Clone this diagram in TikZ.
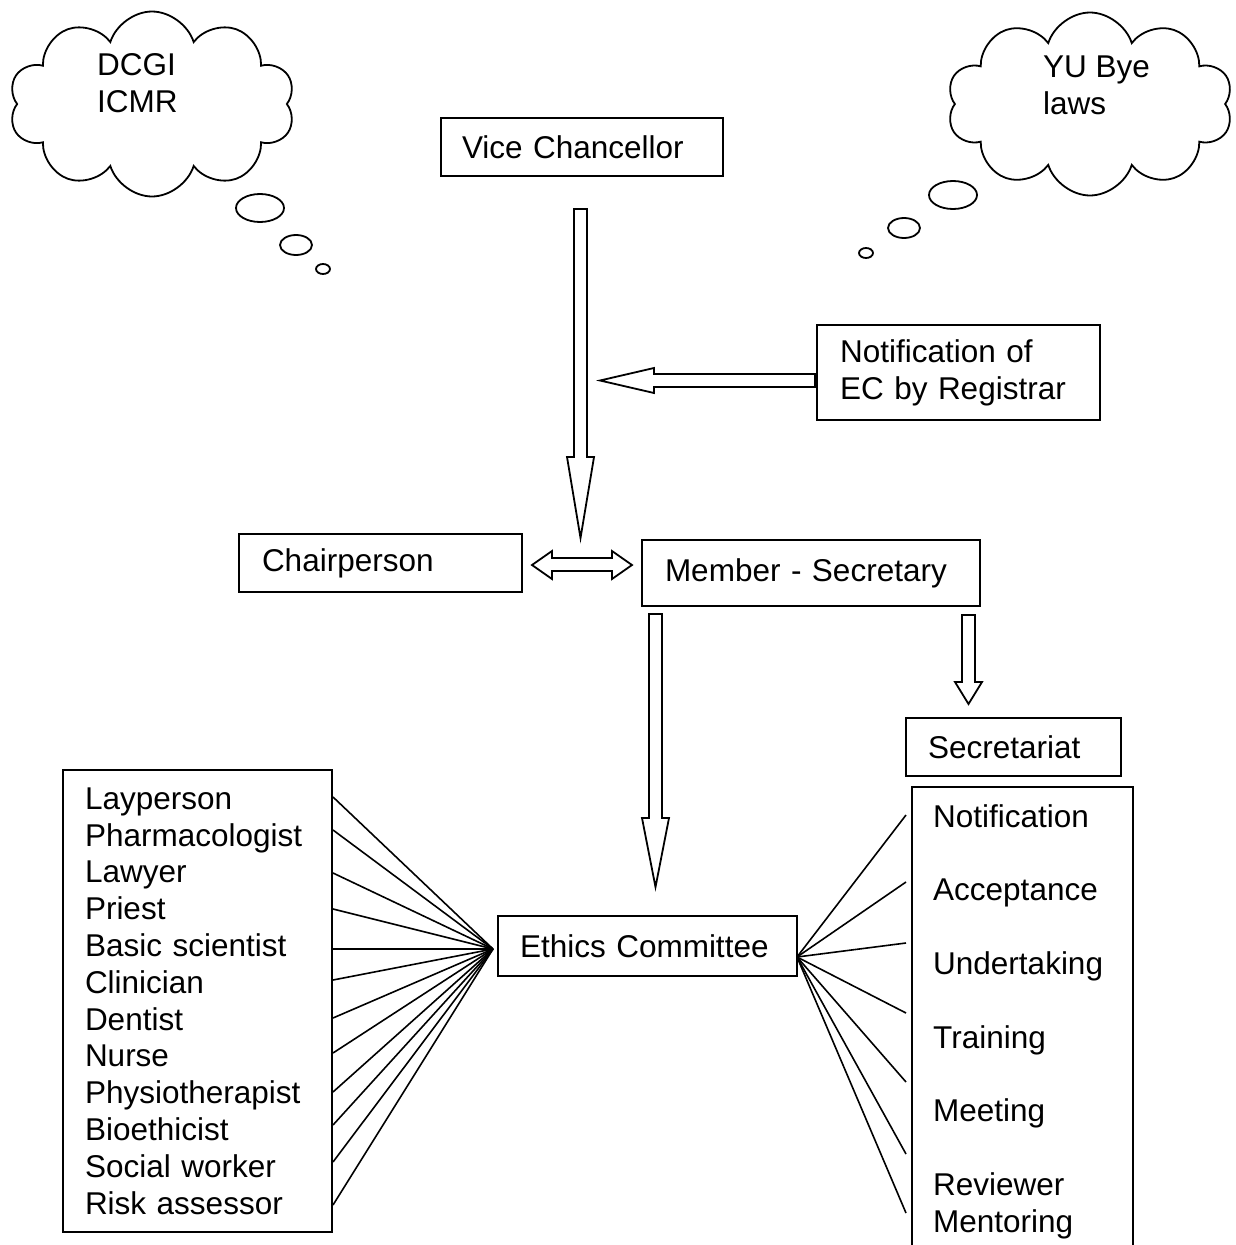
\documentclass[tikz,border=0pt]{standalone}
\usepackage{fontspec}
\setmainfont{Liberation Sans}
\usetikzlibrary{shapes.symbols}
\begin{document}
\begin{tikzpicture}[x=1pt,y=-1pt,
  every node/.style={font=\fontsize{31.5}{36.8}\selectfont},
  box/.style={draw, line width=2pt, inner sep=0pt, align=left},
  txt/.style={anchor=base west, inner sep=0pt},
  blk/.style={draw, line width=1.8pt, fill=white, line join=miter},
  fan/.style={line width=1.6pt},
  thought/.style={draw, line width=1.8pt, cloud, cloud puffs=10, cloud puff arc=145, cloud ignores aspect, inner sep=0pt},
  bub/.style={draw, line width=1.8pt}]
\fill[white] (0,0) rectangle (1235,1245);
\useasboundingbox (0,0) rectangle (1235,1245);

% thought clouds
\node[thought, minimum width=286pt, minimum height=185pt] (cl) at (152,104) {};
\node[anchor=north west, inner sep=0pt, align=left] (clt) at (97,53.4) {DCGI\\ICMR};
\draw[bub] (260,208) ellipse [x radius=24pt, y radius=14pt];
\draw[bub] (296,245) ellipse [x radius=16pt, y radius=10pt];
\draw[bub] (323,269) ellipse [x radius=7pt, y radius=5pt];

\node[thought, minimum width=286pt, minimum height=183pt] (cr) at (1090,104) {};
\node[anchor=north west, inner sep=0pt, align=left] (crt) at (1043,55.4) {YU Bye\\laws};
\draw[bub] (953,195) ellipse [x radius=24pt, y radius=14pt];
\draw[bub] (904,228) ellipse [x radius=16pt, y radius=10pt];
\draw[bub] (866,253) ellipse [x radius=7pt, y radius=5pt];

% boxes
\node[box, minimum width=282pt, minimum height=58pt, text width=240pt] (vc) at (582,147) {Vice Chancellor};
\node[box, minimum width=283pt, minimum height=95pt, text width=237pt] (notif) at (958.5,372.5) {Notification of\\EC by Registrar};
\node[box, minimum width=283pt, minimum height=58pt, text width=237pt] (chair) at (380.5,563) {Chairperson};
\node[box, minimum width=338pt, minimum height=66pt, text width=292pt] (ms) at (811,573) {Member - Secretary};
\node[box, minimum width=215pt, minimum height=58pt, text width=171pt] (sec) at (1013.5,747) {Secretariat};
\node[box, minimum width=299pt, minimum height=60pt, text width=255pt] (ec) at (647.5,946) {Ethics Committee};
\node[box, minimum width=269pt, minimum height=462pt, text width=225pt] (mem) at (197.5,1001)
  {Layperson\\Pharmacologist\\Lawyer\\Priest\\Basic scientist\\Clinician\\Dentist\\Nurse\\Physiotherapist\\Bioethicist\\Social worker\\Risk assessor};
\begin{scope}
\clip (0,0) rectangle (1235,1245);
\node[box, minimum width=221pt, minimum height=478pt] (tasks) at (1022.5,1026) {};
\end{scope}
\node[txt] (t1) at (933,827) {Notification};
\node[txt] (t2) at (933,900.6) {Acceptance};
\node[txt] (t3) at (933,974) {Undertaking};
\node[txt] (t4) at (933,1048) {Training};
\node[txt] (t5) at (933,1121) {Meeting};
\node[txt] (t6) at (933,1195) {Reviewer};
\node[txt] (t7) at (933,1232) {Mentoring};

% block arrows
\draw[blk] (574,209) -- (587,209) -- (587,457) -- (594,457) -- (580.5,538) -- (567,457) -- (574,457) -- cycle;
\draw[blk] (815,374) -- (654,374) -- (654,368) -- (600,380.5) -- (654,393) -- (654,387) -- (815,387) -- cycle;
\draw[blk] (532,565) -- (552,551) -- (552,558) -- (612,558) -- (612,551) -- (632,565) -- (612,579) -- (612,571) -- (552,571) -- (552,579) -- cycle;
\draw[blk] (649,614) -- (662,614) -- (662,818) -- (669,818) -- (655.5,887) -- (642,818) -- (649,818) -- cycle;
\draw[blk] (962,615) -- (975,615) -- (975,682) -- (982,682) -- (968.5,704) -- (955,682) -- (962,682) -- cycle;

% fan connectors
\coordinate (ecL) at (493,949);
\coordinate (ecR) at (797,957);
\foreach \yy in {797,830,873,909,949,980,1018,1053,1092,1125,1162,1205}
  \draw[fan] (mem.east |- 0,\yy) -- (ecL);
\foreach \yy in {815,882,943,1013,1082,1154,1213}
  \draw[fan] ([xshift=-5pt]tasks.west |- 0,\yy) -- (ecR);
\end{tikzpicture}
\end{document}
